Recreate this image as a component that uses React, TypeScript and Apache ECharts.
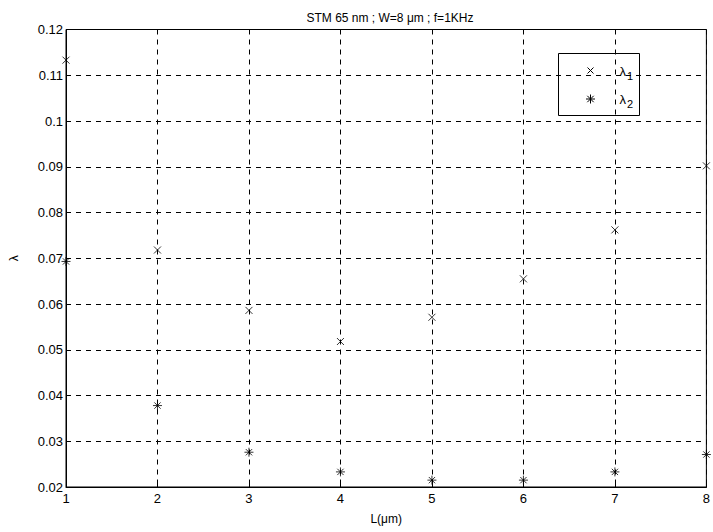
import React, { useEffect, useRef } from "react";
import * as echarts from "echarts";

const lengths = [1, 2, 3, 4, 5, 6, 7, 8];
const lambda1 = [0.1133, 0.0718, 0.0586, 0.0518, 0.0571, 0.0655, 0.0762, 0.0902];
const lambda2 = [0.0693, 0.0378, 0.0276, 0.0233, 0.0215, 0.0215, 0.0233, 0.0271];
const titleText = "STM 65 nm ; W=8 μm ; f=1KHz";
const xName = "L(μm)";
const yName = "λ";

const CROSS = "path://M0,0L10,10M10,0L0,10";
const STAR = "path://M5,0L5,10M0,5L10,5M1.5,1.5L8.5,8.5M8.5,1.5L1.5,8.5";

const FONT = "'Liberation Sans', Arial, sans-serif";

export default function App() {
  const ref = useRef<HTMLDivElement>(null);
  useEffect(() => {
    if (!ref.current) return;
    const chart = echarts.init(ref.current, undefined, { renderer: "svg" });
    const option: any = {
      animation: false,
      backgroundColor: "#ffffff",
      textStyle: { fontFamily: FONT },
      title: {
        text: titleText,
        left: 385,
        top: 7,
        textAlign: "center",
        textStyle: { fontSize: 12, fontWeight: "normal", color: "#000", fontFamily: FONT },
      },
      grid: {
        left: 63,
        right: 5,
        top: 29.5,
        bottom: 45,
        show: true,
        borderColor: "#000",
        borderWidth: 1,
        backgroundColor: "#fff",
      },
      xAxis: {
        type: "value",
        min: 1,
        max: 8,
        interval: 1,
        name: xName,
        nameLocation: "middle",
        nameGap: 26,
        nameTextStyle: { fontSize: 12, color: "#000", fontFamily: FONT },
        axisLine: { show: true, lineStyle: { color: "#000", width: 1 } },
        axisTick: { show: true, inside: true, length: 4, lineStyle: { color: "#000" } },
        axisLabel: { fontSize: 13, color: "#000", margin: 5, fontFamily: FONT },
        splitLine: { show: true, lineStyle: { color: "#000", type: [5, 5], width: 1 } },
      },
      yAxis: {
        type: "value",
        min: 0.02,
        max: 0.12,
        interval: 0.01,
        name: yName,
        nameLocation: "middle",
        nameGap: 46,
        nameRotate: 90,
        nameTextStyle: { fontSize: 12, color: "#000", fontFamily: FONT },
        axisLine: { show: true, lineStyle: { color: "#000", width: 1 } },
        axisTick: { show: true, inside: true, length: 4, lineStyle: { color: "#000" } },
        axisLabel: {
          fontSize: 13,
          color: "#000",
          margin: 3,
          fontFamily: FONT,
          formatter: (v: number) => String(parseFloat(v.toFixed(4))),
        },
        splitLine: { show: true, lineStyle: { color: "#000", type: [5, 5], width: 1 } },
      },
      series: [
        {
          name: "λ1",
          type: "scatter",
          symbol: CROSS,
          symbolSize: 7,
          itemStyle: { color: "none", borderColor: "#000", borderWidth: 1 },
          data: lengths.map((x, i) => [x, lambda1[i]]),
          clip: false,
        },
        {
          name: "λ2",
          type: "scatter",
          symbol: STAR,
          symbolSize: 9,
          itemStyle: { color: "none", borderColor: "#000", borderWidth: 1 },
          data: lengths.map((x, i) => [x, lambda2[i]]),
          clip: false,
        },
      ],
      graphic: [
        {
          type: "group",
          left: 558,
          top: 53,
          children: [
            {
              type: "rect",
              shape: { x: 0, y: 0, width: 81, height: 62 },
              style: { fill: "#fff", stroke: "#000", lineWidth: 1 },
            },
            {
              type: "line",
              shape: { x1: 29, y1: 14, x2: 35, y2: 20 },
              style: { stroke: "#000", lineWidth: 1 },
            },
            {
              type: "line",
              shape: { x1: 35, y1: 14, x2: 29, y2: 20 },
              style: { stroke: "#000", lineWidth: 1 },
            },
            {
              type: "polyline",
              shape: { points: [[32, 41], [32, 50]] },
              style: { stroke: "#000", lineWidth: 1, fill: "none" },
            },
            {
              type: "polyline",
              shape: { points: [[27.5, 45.5], [36.5, 45.5]] },
              style: { stroke: "#000", lineWidth: 1, fill: "none" },
            },
            {
              type: "polyline",
              shape: { points: [[28.8, 42.3], [35.2, 48.7]] },
              style: { stroke: "#000", lineWidth: 1, fill: "none" },
            },
            {
              type: "polyline",
              shape: { points: [[35.2, 42.3], [28.8, 48.7]] },
              style: { stroke: "#000", lineWidth: 1, fill: "none" },
            },
            {
              type: "text",
              x: 61,
              y: 8,
              style: {
                text: "{a|λ}{s|1}",
                rich: {
                  a: { fontSize: 13, fontFamily: FONT, fill: "#000" },
                  s: { fontSize: 11, fontFamily: FONT, fill: "#000", padding: [9, 0, 0, 1] },
                },
              },
            },
            {
              type: "text",
              x: 61,
              y: 36,
              style: {
                text: "{a|λ}{s|2}",
                rich: {
                  a: { fontSize: 13, fontFamily: FONT, fill: "#000" },
                  s: { fontSize: 11, fontFamily: FONT, fill: "#000", padding: [9, 0, 0, 1] },
                },
              },
            },
          ],
        },
      ],
    };
    chart.setOption(option);
    return () => chart.dispose();
  }, []);
  return <div ref={ref} style={{ width: 713, height: 532, position: "absolute", left: 0, top: 0 }} />;
}
